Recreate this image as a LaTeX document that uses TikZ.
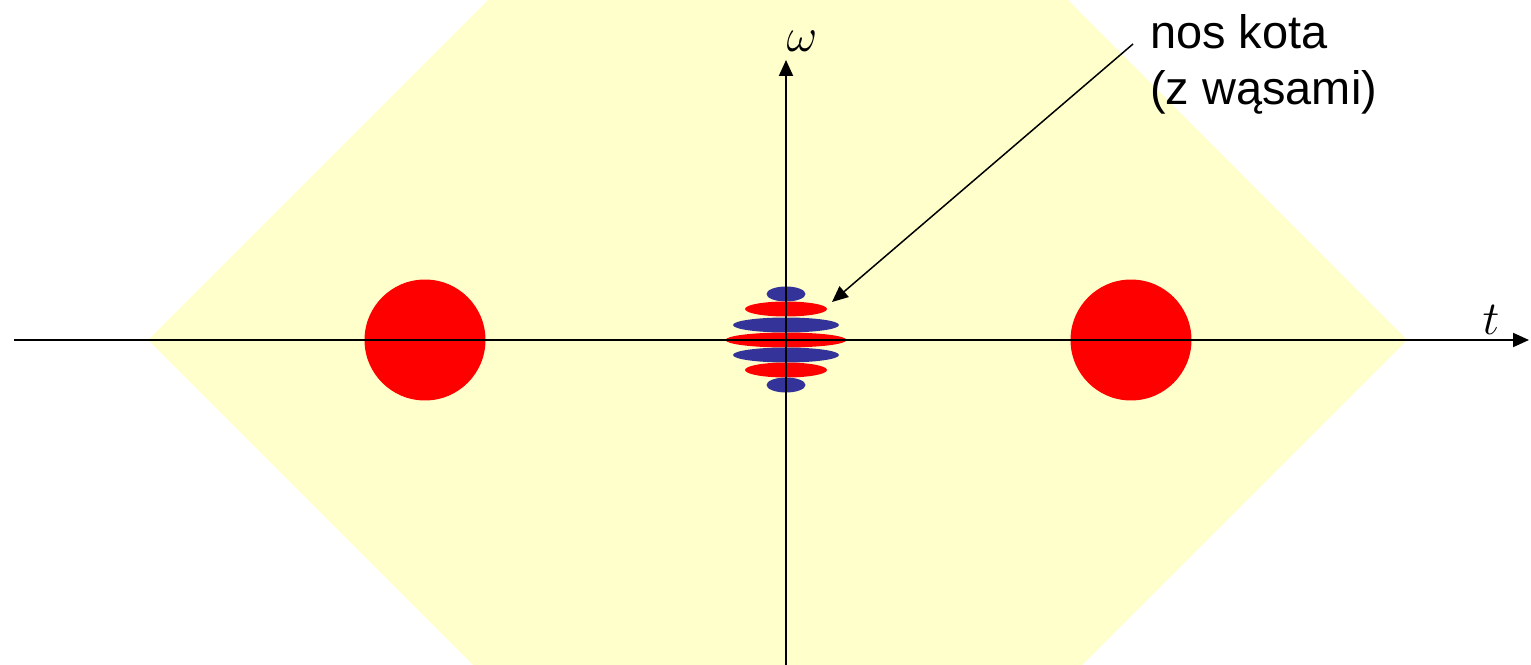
\RequirePackage{fix-cm}
\documentclass[tikz,border=0pt]{standalone}
\usepackage{fontspec}
\usetikzlibrary{arrows.meta,shapes.geometric}
\newfontfamily\opisfont{Liberation Sans}
\definecolor{zolty}{HTML}{FFFFCC}
\definecolor{czerwony}{HTML}{FF0000}
\definecolor{granat}{HTML}{333399}

\begin{document}
\begin{tikzpicture}[x=0.02cm, y=-0.02cm, >={Triangle[length=0.32cm, width=0.28cm]},
      os/.style={->, line width=1.1pt},
      oko/.style={circle, fill=czerwony, minimum size=2.42cm, inner sep=0pt},
      was/.style={ellipse, minimum height=0.3cm, inner sep=0pt}]
    \useasboundingbox (0,0) rectangle (1531,665);
    % tlo
    \fill[zolty] (148,340) -- (488,0) -- (1068,0) -- (1407,340) -- (1082,665) -- (473,665) -- cycle;
    % oczy
    \node[oko] (okoL) at (425,340) {};
    \node[oko] (okoP) at (1131,340) {};
    % nos z wasami
    \node[was, fill=granat, minimum width=0.78cm] (w1) at (786,294) {};
    \node[was, fill=czerwony, minimum width=1.64cm] (w2) at (786,309) {};
    \node[was, fill=granat, minimum width=2.12cm] (w3) at (786,325) {};
    \node[was, fill=czerwony, minimum width=2.42cm] (w4) at (786,340) {};
    \node[was, fill=granat, minimum width=2.12cm] (w5) at (786,355) {};
    \node[was, fill=czerwony, minimum width=1.64cm] (w6) at (786,370) {};
    \node[was, fill=granat, minimum width=0.78cm] (w7) at (786,385) {};
    % osie
    \coordinate (tL) at (14,340);
    \coordinate (tP) at (1529,340);
    \coordinate (wD) at (786,665);
    \coordinate (wG) at (786,60);
    \draw[os] (tL) -- (tP);
    \draw[os] (wD) -- (wG);
    \node[font=\fontsize{27}{32}\selectfont] (omega) at (802,41) {$\omega$};
    \node[font=\fontsize{27}{32}\selectfont] (czas) at (1491,320) {$t$};
    % opis
    \node[font=\opisfont\fontsize{26.7}{31.9}\selectfont, align=left, anchor=base west, inner sep=0pt]
      (nos) at (1150,105) {nos kota\\(z wąsami)};
    \coordinate (nosA) at (1133,44);
    \coordinate (nosB) at (832,302);
    \draw[->, line width=0.85pt] (nosA) -- (nosB);
\end{tikzpicture}
\end{document}
